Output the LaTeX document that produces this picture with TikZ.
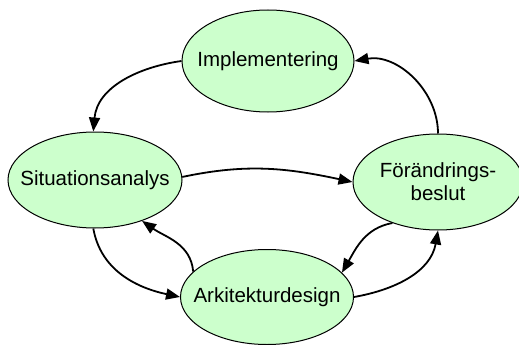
\documentclass[tikz,border=0pt]{standalone}
\usepackage{fontspec}
\setmainfont{Liberation Sans}
\usetikzlibrary{shapes.geometric,arrows.meta}
\begin{document}
\begin{tikzpicture}[x=1pt,y=-1pt,
  phase/.style 2 args={ellipse, draw=black, line width=1pt, fill=phasegreen,
    inner sep=0pt, minimum width=#1, minimum height=#2},
  phasetext/.style={font=\fontsize{20.5}{23}\selectfont, align=center},
  flow/.style={line width=1.8pt, -{Triangle[length=14pt,width=11pt]}}]
  \definecolor{phasegreen}{HTML}{CCFFCC}
  \useasboundingbox (0,0) rectangle (519,345);
  \node[phase={172pt}{102pt}] (impl) at (268,61) {};
  \node[phasetext] (implt) at (impl.center) {Implementering};
  \node[phase={174pt}{96pt}] (sit) at (95,180) {};
  \node[phasetext] (sitt) at (sit.center) {Situationsanalys};
  \node[phase={170pt}{96pt}] (fb) at (438,182) {};
  \node[phasetext] (fbt) at (fb.center) {Förändrings-\\beslut};
  \node[phase={173pt}{95pt}] (ark) at (267,297) {};
  \node[phasetext] (arkt) at (ark.center) {Arkitekturdesign};

  \draw[flow] (impl.180) to[out=188, in=85] (sit.92);
  \draw[flow] (fb.90) to[out=90, in=10] (impl.0);
  \draw[flow] (sit.2) to[out=12, in=168] (fb.180);
  \draw[flow] (sit.-92) to[out=-80, in=168] (ark.180);
  \draw[flow] (ark.161) to[out=95, in=-35] (sit.-41);
  \draw[flow] (fb.222) to[out=190, in=60] (ark.18);
  \draw[flow] (ark.0) to[out=10, in=-100] (fb.-90);
\end{tikzpicture}
\end{document}
